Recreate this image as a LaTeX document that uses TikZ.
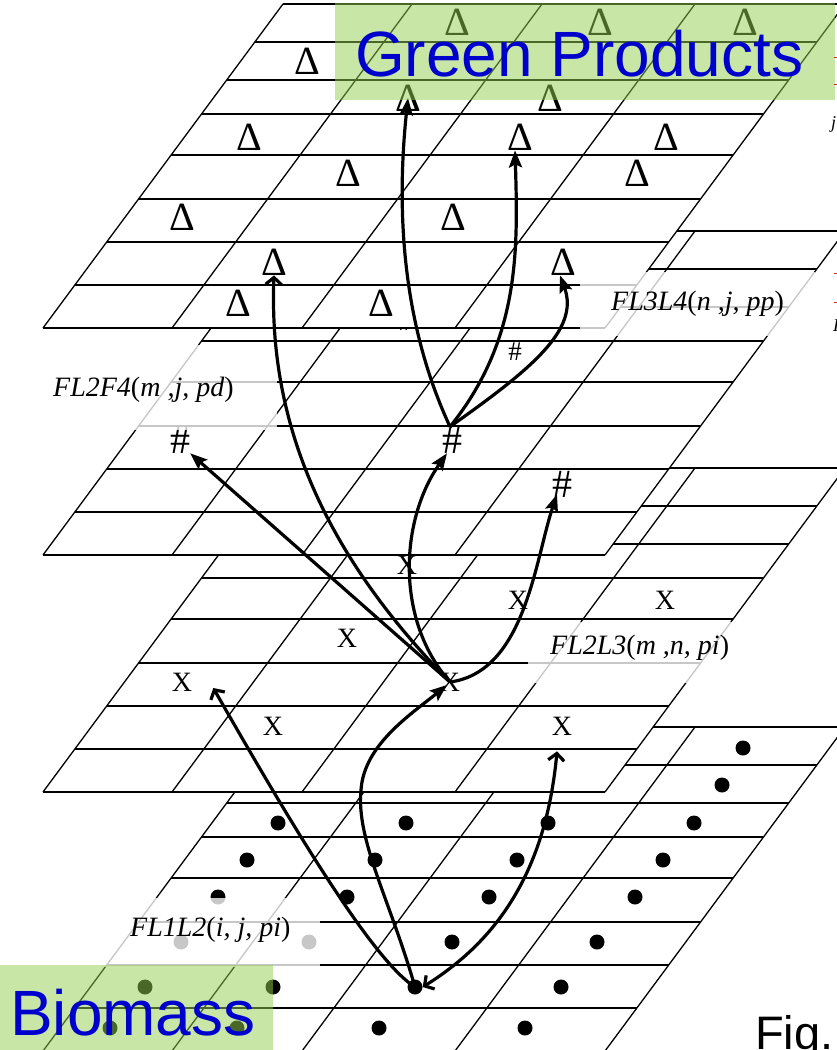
\documentclass[tikz,border=0pt]{standalone}
\usepackage{fontspec}
\setmainfont{Liberation Serif}
\newfontfamily\arialfont{Liberation Sans}
\usetikzlibrary{arrows.meta}
\definecolor{LeafGreen}{RGB}{146,208,80}
\definecolor{TitleBlue}{RGB}{0,0,204}
\definecolor{EdgeRed}{RGB}{230,30,30}

\tikzset{
  gridline/.style={line width=1.3pt},
  fade/.style={fill=white,fill opacity=.78},
  greenbox/.style={fill=LeafGreen,fill opacity=.5},
  tmark/.style={inner sep=0pt,font=\fontsize{40}{40}\selectfont},
  hmark/.style={inner sep=0pt,font=\fontsize{40}{40}\selectfont},
  smallh/.style={inner sep=0pt,font=\fontsize{27}{27}\selectfont},
  xmark/.style={inner sep=0pt,font=\fontsize{28}{28}\selectfont},
  dmark/.style={circle,fill=black,inner sep=0pt,minimum size=15pt},
  flabel/.style={inner sep=0pt,anchor=base west,font=\fontsize{28}{28}\selectfont},
  bigtext/.style={inner sep=0pt,anchor=base west,text=TitleBlue,font=\arialfont\fontsize{64}{64}\selectfont},
  flowarrow/.style={line width=3.2pt,-{Stealth[length=17pt,width=13pt,inset=3pt]}},
  openarrow/.style={line width=3.2pt,-{Straight Barb[length=7pt,width=16pt]}},
  twoarrow/.style={line width=3.2pt,{Straight Barb[length=7pt,width=16pt]}-{Straight Barb[length=7pt,width=16pt]}}
}

\newcommand{\gridlayer}[1]{%
  \fill[white] (43,328+#1) -- (605,328+#1) -- (845,4+#1) -- (283,4+#1) -- cycle;
  \foreach \ry in {4,42,80,114,155,199,242,285,328}
    \draw[gridline] ({43+(328-\ry)*0.74},\ry+#1) -- ({605+(328-\ry)*0.74},\ry+#1);
  \foreach \cx in {43,172,302,455,605}
    \draw[gridline] (\cx,328+#1) -- (\cx+240,4+#1);
}

\begin{document}
\begin{tikzpicture}[x=1pt,y=-1pt]
  \useasboundingbox (0,0) rectangle (837,1050);

  % biomass plate
  \gridlayer{723}
  \foreach \x/\y [count=\i] in {743/748,722/785,278/823,406/823,548/823,694/823,
      247/860,375/860,517/860,663/860,218/897,347/897,489/897,635/897,
      181/942,309/942,452/942,597/942,145/987,273/987,561/987,
      110/1028,237/1028,379/1028,525/1028}
    \node[dmark] (d\i) at (\x,\y) {};
  \node[dmark] (src) at (415,987) {};

  % plate with X
  \gridlayer{464}
  \foreach \x/\y [count=\i] in {407/565,518/600,665/600,347/638,
      182/682,450/682,273/726,562/726}
    \node[xmark] (x\i) at (\x,\y) {X};

  % plate with #
  \gridlayer{227}
  \node[smallh] (hs1) at (405,322) {\#};
  \node[smallh] (hs2) at (515,352) {\#};
  \node[hmark] (h1) at (180,440) {\#};
  \node[hmark] (h2) at (452,440) {\#};
  \node[hmark] (h3) at (562,484) {\#};

  % product plate
  \gridlayer{0}
  \foreach \x/\y [count=\i] in {307/61,457/22,600/22,745/22,408/98,550/98,
      249/137,520/137,666/137,348/173,637/173,182/217,453/217,
      274/262,563/262,238/303,381/303}
    \node[tmark] (t\i) at (\x,\y) {Δ};

  \fill[fade] (580,272) rectangle (815,336);
  \fill[fade] (45,345) rectangle (277,430);
  \fill[fade] (528,622) rectangle (740,683);
  \fill[fade] (100,898) rectangle (320,967);
  \node[flabel] (lab34) at (611,310) {\textit{FL3L4}(\textit{n ,j, pp})};
  \node[flabel] (lab24) at (53,396) {\textit{FL2F4}(\textit{m ,j, pd})};
  \node[flabel] (lab23) at (550,654) {\textit{FL2L3}(\textit{m ,n, pi})};
  \node[flabel] (lab12) at (130,936) {\textit{FL1L2}(\textit{i, j, pi})};

  \draw[openarrow] (src.center) .. controls (375,962) and (300,840) .. ([xshift=21pt,yshift=-6pt]x5.east);
  \draw[flowarrow] (src.center) .. controls (390,900) and (356,840) .. (361,790)
    .. controls (364,745) and (410,715) .. ([xshift=-3pt,yshift=-3pt]x6.center);
  \draw[twoarrow] (src.east) .. controls (490,945) and (545,880) .. ([xshift=-5pt,yshift=-16pt]x8.south);
  \draw[flowarrow] (x6.center) -- (h1.south east);
  \draw[flowarrow] (x6.center) .. controls (395,620) and (400,520) .. ([xshift=-5pt]h2.south);
  \draw[flowarrow] (x6.center) .. controls (525,672) and (535,560) .. ([xshift=-5pt,yshift=3pt]h3.south);
  \draw[openarrow] (x6.center) .. controls (330,560) and (268,430) .. (t14.south);
  \draw[flowarrow] ([xshift=-2pt]h2.north) .. controls (405,330) and (395,220) .. (t5.center);
  \draw[flowarrow] ([xshift=-2pt]h2.north) .. controls (520,340) and (518,250) .. ([xshift=-5pt]t8.south);
  \draw[flowarrow] ([xshift=-2pt]h2.north) .. controls (530,370) and (580,330) .. ([xshift=-3pt]t15.south);

  \fill[greenbox] (335,3) rectangle (835,100);
  \node[bigtext] (green) at (355,76) {Green Products};
  \fill[greenbox] (0,965) rectangle (273,1050);
  \node[bigtext] (bio) at (10,1035) {Biomass};
  \node[inner sep=0pt,anchor=base west,font=\arialfont\fontsize{47}{47}\selectfont] (fig) at (755,1049) {Fig.};

  \foreach \y in {57,84,273,302}
    \draw[EdgeRed,line width=1pt] (834,\y) -- (840,\y);
  \node[inner sep=0pt,anchor=base west,font=\fontsize{18}{18}\selectfont\itshape] (cutj) at (831,128) {j};
  \node[inner sep=0pt,anchor=base west,font=\fontsize{18}{18}\selectfont\itshape] (cutf) at (833,331) {F};
\end{tikzpicture}
\end{document}
